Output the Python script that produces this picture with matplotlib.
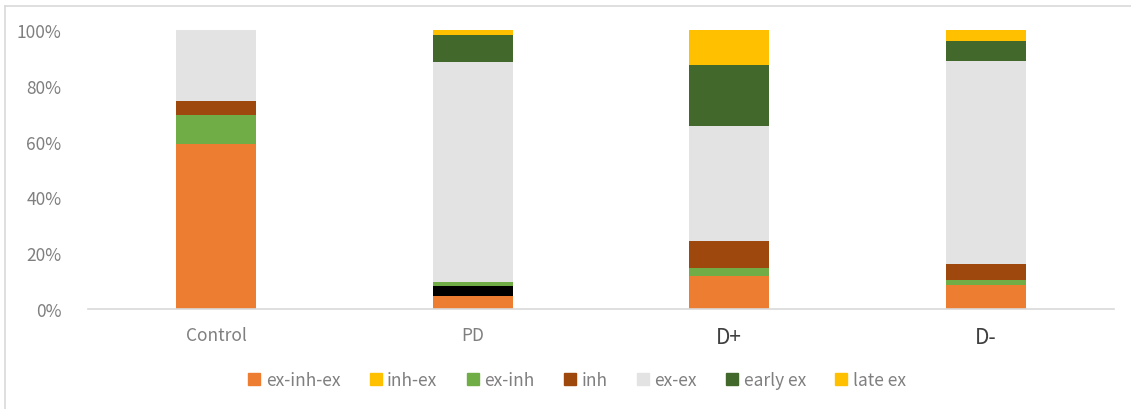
import numpy as np
import matplotlib.pyplot as plt
from matplotlib.lines import Line2D
from matplotlib.patches import Patch

plt.rcParams['font.family'] = ['Noto Sans CJK JP', 'DejaVu Sans']

groups = ["Control", "PD", "D+", "D-"]
series = ["ex-inh-ex", "inh-ex", "ex-inh", "inh", "ex-ex", "early ex", "late ex"]
colors = ["#ED7D31", "#FFC000", "#70AD47", "#9E480E", "#E3E3E3", "#43682B", "#FFC000"]

# percent of cells per response type
ex_inh_ex = [59.1, 4.5, 11.9, 8.7]
inh_ex = [0.0, 3.6, 0.0, 0.0]
ex_inh = [10.5, 1.4, 2.7, 1.7]
inh = [4.8, 0.0, 9.9, 5.6]
ex_ex = [25.6, 78.9, 41.0, 73.0]
early_ex = [0.0, 9.8, 22.1, 7.2]
late_ex = [0.0, 1.8, 12.4, 3.8]

values = [ex_inh_ex, inh_ex, ex_inh, inh, ex_ex, early_ex, late_ex]

fig = plt.figure(figsize=(11.31, 4.10), dpi=100)
ax = fig.add_axes([88 / 1131, 1 - 310 / 410, (1114 - 88) / 1131, (310 - 31) / 410])

x = np.arange(len(groups))
bottom = np.zeros(len(groups))
for name, col, vals in zip(series, colors, values):
    v = np.array(vals) / 100
    bars = ax.bar(x, v, 0.312, bottom=bottom, color=col, label=name, zorder=2, linewidth=0)
    if name == "inh-ex":
        # PD bar has this segment shaded black
        bars[1].set_facecolor("black")
    bottom += v

ax.set_xlim(-0.5, len(groups) - 0.5)
ax.set_ylim(0, 1)
ax.set_yticks(np.linspace(0, 1, 6))
ax.set_yticklabels([f"{int(t)}%" for t in np.linspace(0, 100, 6)])
ax.set_xticks(x)
ax.set_xticklabels(groups)
for lab in ax.get_xticklabels()[2:]:
    lab.set_color("#404040")
    lab.set_fontsize(15)
for lab in ax.get_xticklabels()[:2]:
    lab.set_color("#7F7F7F")
    lab.set_fontsize(12.5)
ax.tick_params(axis="y", colors="#7F7F7F", labelsize=12.5, length=0, pad=19)
ax.tick_params(axis="x", length=0, pad=12)
for s in ["top", "right", "left"]:
    ax.spines[s].set_visible(False)
ax.spines["bottom"].set_color("#D9D9D9")
ax.spines["bottom"].set_linewidth(1.2)

handles = [Patch(color=c, label=n) for n, c in zip(series, colors)]
fig.legend(handles=handles, loc="center", bbox_to_anchor=(577 / 1131, 1 - 381 / 410),
           ncol=7, frameon=False, fontsize=12.5, labelcolor="#7F7F7F",
           handlelength=0.7, handleheight=0.7, handletextpad=0.3, columnspacing=1.7)

# outer chart border (left and top edges)
fig.add_artist(Line2D([5 / 1131, 5 / 1131], [0, 1 - 7 / 410], transform=fig.transFigure,
                      color="#D9D9D9", lw=1.2))
fig.add_artist(Line2D([5 / 1131, 1], [1 - 7 / 410, 1 - 7 / 410], transform=fig.transFigure,
                      color="#D9D9D9", lw=1.2))

fig.savefig("out.png", dpi=100)
